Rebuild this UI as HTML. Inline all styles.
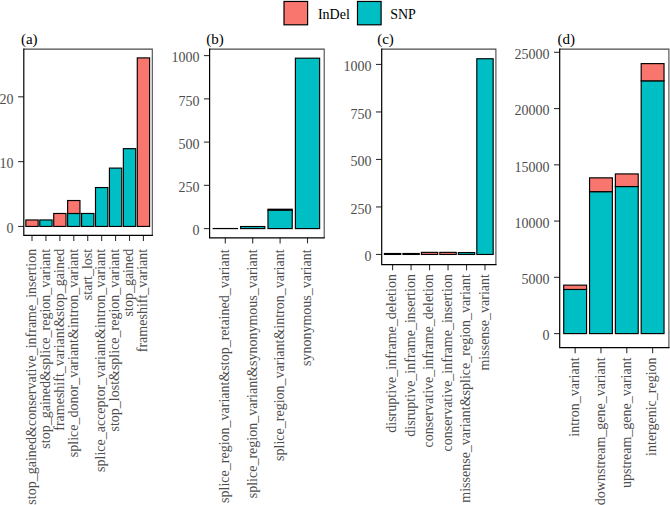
<!DOCTYPE html>
<html><head><meta charset="utf-8"><style>
html,body{margin:0;padding:0;background:#fff;}
body{width:670px;height:505px;overflow:hidden;}
svg{display:block;font-family:"Liberation Serif", serif;}
</style></head><body>
<svg width="670" height="505" viewBox="0 0 670 505">
<rect width="670" height="505" fill="#fff"/>
<rect x="25.84" y="219.97" width="12.33" height="6.48" fill="#F8766D" stroke="#000" stroke-width="1.15"/>
<line x1="32.00" y1="235.30" x2="32.00" y2="240.90" stroke="#333" stroke-width="1.1" stroke-linecap="butt"/>
<text transform="translate(35.80,248.80) rotate(-90)" text-anchor="end" fill="#4D4D4D" font-size="14">stop_gained&amp;conservative_inframe_insertion</text>
<rect x="39.77" y="219.97" width="12.33" height="6.48" fill="#00BFC4" stroke="#000" stroke-width="1.15"/>
<line x1="45.93" y1="235.30" x2="45.93" y2="240.90" stroke="#333" stroke-width="1.1" stroke-linecap="butt"/>
<text transform="translate(49.73,248.80) rotate(-90)" text-anchor="end" fill="#4D4D4D" font-size="14">stop_gained&amp;splice_region_variant</text>
<rect x="53.70" y="213.48" width="12.33" height="12.97" fill="#F8766D" stroke="#000" stroke-width="1.15"/>
<line x1="59.86" y1="235.30" x2="59.86" y2="240.90" stroke="#333" stroke-width="1.1" stroke-linecap="butt"/>
<text transform="translate(63.66,248.80) rotate(-90)" text-anchor="end" fill="#4D4D4D" font-size="14">frameshift_variant&amp;stop_gained</text>
<rect x="67.63" y="213.48" width="12.33" height="12.97" fill="#00BFC4" stroke="#000" stroke-width="1.15"/>
<rect x="67.63" y="200.52" width="12.33" height="12.97" fill="#F8766D" stroke="#000" stroke-width="1.15"/>
<line x1="73.79" y1="235.30" x2="73.79" y2="240.90" stroke="#333" stroke-width="1.1" stroke-linecap="butt"/>
<text transform="translate(77.59,248.80) rotate(-90)" text-anchor="end" fill="#4D4D4D" font-size="14">splice_donor_variant&amp;intron_variant</text>
<rect x="81.56" y="213.48" width="12.33" height="12.97" fill="#00BFC4" stroke="#000" stroke-width="1.15"/>
<line x1="87.72" y1="235.30" x2="87.72" y2="240.90" stroke="#333" stroke-width="1.1" stroke-linecap="butt"/>
<text transform="translate(91.52,248.80) rotate(-90)" text-anchor="end" fill="#4D4D4D" font-size="14">start_lost</text>
<rect x="95.49" y="187.55" width="12.33" height="38.90" fill="#00BFC4" stroke="#000" stroke-width="1.15"/>
<line x1="101.65" y1="235.30" x2="101.65" y2="240.90" stroke="#333" stroke-width="1.1" stroke-linecap="butt"/>
<text transform="translate(105.45,248.80) rotate(-90)" text-anchor="end" fill="#4D4D4D" font-size="14">splice_acceptor_variant&amp;intron_variant</text>
<rect x="109.42" y="168.11" width="12.33" height="58.34" fill="#00BFC4" stroke="#000" stroke-width="1.15"/>
<line x1="115.58" y1="235.30" x2="115.58" y2="240.90" stroke="#333" stroke-width="1.1" stroke-linecap="butt"/>
<text transform="translate(119.38,248.80) rotate(-90)" text-anchor="end" fill="#4D4D4D" font-size="14">stop_lost&amp;splice_region_variant</text>
<rect x="123.35" y="148.66" width="12.33" height="77.79" fill="#00BFC4" stroke="#000" stroke-width="1.15"/>
<line x1="129.51" y1="235.30" x2="129.51" y2="240.90" stroke="#333" stroke-width="1.1" stroke-linecap="butt"/>
<text transform="translate(133.31,248.80) rotate(-90)" text-anchor="end" fill="#4D4D4D" font-size="14">stop_gained</text>
<rect x="137.28" y="57.90" width="12.33" height="168.55" fill="#F8766D" stroke="#000" stroke-width="1.15"/>
<line x1="143.44" y1="235.30" x2="143.44" y2="240.90" stroke="#333" stroke-width="1.1" stroke-linecap="butt"/>
<text transform="translate(147.24,248.80) rotate(-90)" text-anchor="end" fill="#4D4D4D" font-size="14">frameshift_variant</text>
<line x1="18.10" y1="226.45" x2="23.80" y2="226.45" stroke="#333" stroke-width="1.1" stroke-linecap="butt"/>
<text x="13.60" y="233.20" text-anchor="end" fill="#4D4D4D" font-size="14" >0</text>
<line x1="18.10" y1="161.62" x2="23.80" y2="161.62" stroke="#333" stroke-width="1.1" stroke-linecap="butt"/>
<text x="13.60" y="168.37" text-anchor="end" fill="#4D4D4D" font-size="14" >10</text>
<line x1="18.10" y1="96.80" x2="23.80" y2="96.80" stroke="#333" stroke-width="1.1" stroke-linecap="butt"/>
<text x="13.60" y="103.55" text-anchor="end" fill="#4D4D4D" font-size="14" >20</text>
<path d="M23.80,49.10 H152.30 V235.30" fill="none" stroke="#4a4a4a" stroke-width="1.1"/>
<path d="M23.80,49.10 V235.30 H152.30" fill="none" stroke="#000" stroke-width="1.2" stroke-linecap="square"/>
<text x="20.90" y="43.60" text-anchor="start" fill="#000" font-size="15" >(a)</text>
<rect x="213.18" y="228.51" width="24.25" height="0.09" fill="#00BFC4" stroke="#000" stroke-width="1.15"/>
<line x1="225.30" y1="237.80" x2="225.30" y2="243.40" stroke="#333" stroke-width="1.1" stroke-linecap="butt"/>
<text transform="translate(229.10,249.40) rotate(-90)" text-anchor="end" fill="#4D4D4D" font-size="14">splice_region_variant&amp;stop_retained_variant</text>
<rect x="240.58" y="226.52" width="24.25" height="2.08" fill="#00BFC4" stroke="#000" stroke-width="1.15"/>
<line x1="252.70" y1="237.80" x2="252.70" y2="243.40" stroke="#333" stroke-width="1.1" stroke-linecap="butt"/>
<text transform="translate(256.50,249.40) rotate(-90)" text-anchor="end" fill="#4D4D4D" font-size="14">splice_region_variant&amp;synonymous_variant</text>
<rect x="267.98" y="210.09" width="24.25" height="18.51" fill="#00BFC4" stroke="#000" stroke-width="1.15"/>
<rect x="267.98" y="209.22" width="24.25" height="0.86" fill="#F8766D" stroke="#000" stroke-width="1.15"/>
<line x1="280.10" y1="237.80" x2="280.10" y2="243.40" stroke="#333" stroke-width="1.1" stroke-linecap="butt"/>
<text transform="translate(283.90,249.40) rotate(-90)" text-anchor="end" fill="#4D4D4D" font-size="14">splice_region_variant&amp;intron_variant</text>
<rect x="295.38" y="58.19" width="24.25" height="170.41" fill="#00BFC4" stroke="#000" stroke-width="1.15"/>
<line x1="307.50" y1="237.80" x2="307.50" y2="243.40" stroke="#333" stroke-width="1.1" stroke-linecap="butt"/>
<text transform="translate(311.30,249.40) rotate(-90)" text-anchor="end" fill="#4D4D4D" font-size="14">synonymous_variant</text>
<line x1="203.90" y1="228.60" x2="209.60" y2="228.60" stroke="#333" stroke-width="1.1" stroke-linecap="butt"/>
<text x="199.40" y="235.35" text-anchor="end" fill="#4D4D4D" font-size="14" >0</text>
<line x1="203.90" y1="185.35" x2="209.60" y2="185.35" stroke="#333" stroke-width="1.1" stroke-linecap="butt"/>
<text x="199.40" y="192.10" text-anchor="end" fill="#4D4D4D" font-size="14" >250</text>
<line x1="203.90" y1="142.10" x2="209.60" y2="142.10" stroke="#333" stroke-width="1.1" stroke-linecap="butt"/>
<text x="199.40" y="148.85" text-anchor="end" fill="#4D4D4D" font-size="14" >500</text>
<line x1="203.90" y1="98.85" x2="209.60" y2="98.85" stroke="#333" stroke-width="1.1" stroke-linecap="butt"/>
<text x="199.40" y="105.60" text-anchor="end" fill="#4D4D4D" font-size="14" >750</text>
<line x1="203.90" y1="55.60" x2="209.60" y2="55.60" stroke="#333" stroke-width="1.1" stroke-linecap="butt"/>
<text x="199.40" y="62.35" text-anchor="end" fill="#4D4D4D" font-size="14" >1000</text>
<path d="M209.60,49.10 H324.20 V237.80" fill="none" stroke="#4a4a4a" stroke-width="1.1"/>
<path d="M209.60,49.10 V237.80 H324.20" fill="none" stroke="#000" stroke-width="1.2" stroke-linecap="square"/>
<text x="206.20" y="43.60" text-anchor="start" fill="#000" font-size="15" >(b)</text>
<rect x="384.42" y="253.50" width="16.35" height="0.95" fill="#F8766D" stroke="#000" stroke-width="1.15"/>
<line x1="392.60" y1="264.70" x2="392.60" y2="270.30" stroke="#333" stroke-width="1.1" stroke-linecap="butt"/>
<text transform="translate(396.40,274.10) rotate(-90)" text-anchor="end" fill="#4D4D4D" font-size="14">disruptive_inframe_deletion</text>
<rect x="402.90" y="253.50" width="16.35" height="0.95" fill="#F8766D" stroke="#000" stroke-width="1.15"/>
<line x1="411.08" y1="264.70" x2="411.08" y2="270.30" stroke="#333" stroke-width="1.1" stroke-linecap="butt"/>
<text transform="translate(414.88,274.10) rotate(-90)" text-anchor="end" fill="#4D4D4D" font-size="14">disruptive_inframe_insertion</text>
<rect x="421.38" y="252.36" width="16.35" height="2.09" fill="#F8766D" stroke="#000" stroke-width="1.15"/>
<line x1="429.56" y1="264.70" x2="429.56" y2="270.30" stroke="#333" stroke-width="1.1" stroke-linecap="butt"/>
<text transform="translate(433.36,274.10) rotate(-90)" text-anchor="end" fill="#4D4D4D" font-size="14">conservative_inframe_deletion</text>
<rect x="439.86" y="252.36" width="16.35" height="2.09" fill="#F8766D" stroke="#000" stroke-width="1.15"/>
<line x1="448.04" y1="264.70" x2="448.04" y2="270.30" stroke="#333" stroke-width="1.1" stroke-linecap="butt"/>
<text transform="translate(451.84,274.10) rotate(-90)" text-anchor="end" fill="#4D4D4D" font-size="14">conservative_inframe_insertion</text>
<rect x="458.34" y="252.55" width="16.35" height="1.90" fill="#00BFC4" stroke="#000" stroke-width="1.15"/>
<line x1="466.52" y1="264.70" x2="466.52" y2="270.30" stroke="#333" stroke-width="1.1" stroke-linecap="butt"/>
<text transform="translate(470.32,274.10) rotate(-90)" text-anchor="end" fill="#4D4D4D" font-size="14">missense_variant&amp;splice_region_variant</text>
<rect x="476.82" y="58.75" width="16.35" height="195.70" fill="#00BFC4" stroke="#000" stroke-width="1.15"/>
<line x1="485.00" y1="264.70" x2="485.00" y2="270.30" stroke="#333" stroke-width="1.1" stroke-linecap="butt"/>
<text transform="translate(488.80,274.10) rotate(-90)" text-anchor="end" fill="#4D4D4D" font-size="14">missense_variant</text>
<line x1="376.00" y1="254.45" x2="381.70" y2="254.45" stroke="#333" stroke-width="1.1" stroke-linecap="butt"/>
<text x="371.50" y="261.20" text-anchor="end" fill="#4D4D4D" font-size="14" >0</text>
<line x1="376.00" y1="206.95" x2="381.70" y2="206.95" stroke="#333" stroke-width="1.1" stroke-linecap="butt"/>
<text x="371.50" y="213.70" text-anchor="end" fill="#4D4D4D" font-size="14" >250</text>
<line x1="376.00" y1="159.45" x2="381.70" y2="159.45" stroke="#333" stroke-width="1.1" stroke-linecap="butt"/>
<text x="371.50" y="166.20" text-anchor="end" fill="#4D4D4D" font-size="14" >500</text>
<line x1="376.00" y1="111.95" x2="381.70" y2="111.95" stroke="#333" stroke-width="1.1" stroke-linecap="butt"/>
<text x="371.50" y="118.70" text-anchor="end" fill="#4D4D4D" font-size="14" >750</text>
<line x1="376.00" y1="64.45" x2="381.70" y2="64.45" stroke="#333" stroke-width="1.1" stroke-linecap="butt"/>
<text x="371.50" y="71.20" text-anchor="end" fill="#4D4D4D" font-size="14" >1000</text>
<path d="M381.70,49.10 H495.90 V264.70" fill="none" stroke="#4a4a4a" stroke-width="1.1"/>
<path d="M381.70,49.10 V264.70 H495.90" fill="none" stroke="#000" stroke-width="1.2" stroke-linecap="square"/>
<text x="377.20" y="43.60" text-anchor="start" fill="#000" font-size="15" >(c)</text>
<rect x="563.72" y="289.46" width="22.85" height="44.14" fill="#00BFC4" stroke="#000" stroke-width="1.15"/>
<rect x="563.72" y="285.15" width="22.85" height="4.31" fill="#F8766D" stroke="#000" stroke-width="1.15"/>
<line x1="575.15" y1="347.70" x2="575.15" y2="353.30" stroke="#333" stroke-width="1.1" stroke-linecap="butt"/>
<text transform="translate(578.95,357.40) rotate(-90)" text-anchor="end" fill="#4D4D4D" font-size="14">intron_variant</text>
<rect x="589.54" y="191.66" width="22.85" height="141.94" fill="#00BFC4" stroke="#000" stroke-width="1.15"/>
<rect x="589.54" y="177.84" width="22.85" height="13.82" fill="#F8766D" stroke="#000" stroke-width="1.15"/>
<line x1="600.97" y1="347.70" x2="600.97" y2="353.30" stroke="#333" stroke-width="1.1" stroke-linecap="butt"/>
<text transform="translate(604.77,357.40) rotate(-90)" text-anchor="end" fill="#4D4D4D" font-size="14">downstream_gene_variant</text>
<rect x="615.36" y="186.55" width="22.85" height="147.05" fill="#00BFC4" stroke="#000" stroke-width="1.15"/>
<rect x="615.36" y="173.93" width="22.85" height="12.61" fill="#F8766D" stroke="#000" stroke-width="1.15"/>
<line x1="626.79" y1="347.70" x2="626.79" y2="353.30" stroke="#333" stroke-width="1.1" stroke-linecap="butt"/>
<text transform="translate(630.59,357.40) rotate(-90)" text-anchor="end" fill="#4D4D4D" font-size="14">upstream_gene_variant</text>
<rect x="641.18" y="80.84" width="22.85" height="252.76" fill="#00BFC4" stroke="#000" stroke-width="1.15"/>
<rect x="641.18" y="63.61" width="22.85" height="17.23" fill="#F8766D" stroke="#000" stroke-width="1.15"/>
<line x1="652.61" y1="347.70" x2="652.61" y2="353.30" stroke="#333" stroke-width="1.1" stroke-linecap="butt"/>
<text transform="translate(656.41,357.40) rotate(-90)" text-anchor="end" fill="#4D4D4D" font-size="14">intergenic_region</text>
<line x1="554.00" y1="333.60" x2="559.70" y2="333.60" stroke="#333" stroke-width="1.1" stroke-linecap="butt"/>
<text x="549.50" y="340.35" text-anchor="end" fill="#4D4D4D" font-size="14" >0</text>
<line x1="554.00" y1="277.34" x2="559.70" y2="277.34" stroke="#333" stroke-width="1.1" stroke-linecap="butt"/>
<text x="549.50" y="284.09" text-anchor="end" fill="#4D4D4D" font-size="14" >5000</text>
<line x1="554.00" y1="221.08" x2="559.70" y2="221.08" stroke="#333" stroke-width="1.1" stroke-linecap="butt"/>
<text x="549.50" y="227.83" text-anchor="end" fill="#4D4D4D" font-size="14" >10000</text>
<line x1="554.00" y1="164.82" x2="559.70" y2="164.82" stroke="#333" stroke-width="1.1" stroke-linecap="butt"/>
<text x="549.50" y="171.57" text-anchor="end" fill="#4D4D4D" font-size="14" >15000</text>
<line x1="554.00" y1="108.56" x2="559.70" y2="108.56" stroke="#333" stroke-width="1.1" stroke-linecap="butt"/>
<text x="549.50" y="115.31" text-anchor="end" fill="#4D4D4D" font-size="14" >20000</text>
<line x1="554.00" y1="52.30" x2="559.70" y2="52.30" stroke="#333" stroke-width="1.1" stroke-linecap="butt"/>
<text x="549.50" y="59.05" text-anchor="end" fill="#4D4D4D" font-size="14" >25000</text>
<path d="M559.70,49.10 H668.90 V347.70" fill="none" stroke="#4a4a4a" stroke-width="1.1"/>
<path d="M559.70,49.10 V347.70 H668.90" fill="none" stroke="#000" stroke-width="1.2" stroke-linecap="square"/>
<text x="557.40" y="43.60" text-anchor="start" fill="#000" font-size="15" >(d)</text>
<rect x="284.00" y="1.45" width="23.60" height="23.35" fill="#F8766D" stroke="#000" stroke-width="1.2"/>
<text x="317.90" y="19.00" text-anchor="start" fill="#000" font-size="14" >InDel</text>
<rect x="357.50" y="1.45" width="23.60" height="23.35" fill="#00BFC4" stroke="#000" stroke-width="1.2"/>
<text x="390.20" y="19.00" text-anchor="start" fill="#000" font-size="14" >SNP</text>
</svg>
</body></html>
